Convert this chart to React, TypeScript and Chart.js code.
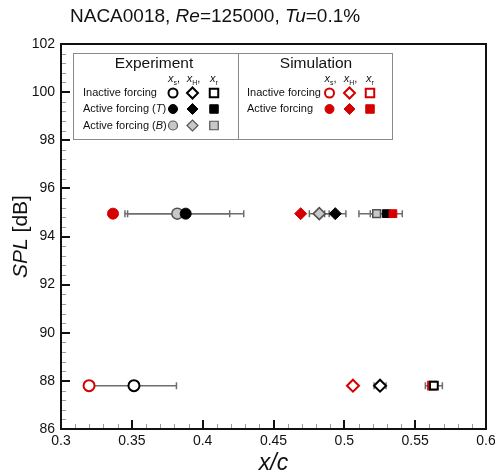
import React, { useEffect, useRef } from 'react';
import { Chart, registerables } from 'chart.js';
Chart.register(...registerables);

// ---------- data ----------
const xTickValues = [0.3, 0.35, 0.4, 0.45, 0.5, 0.55, 0.6];
const yTickValues = [86, 88, 90, 92, 94, 96, 98, 100, 102];
const splActive = 94.95;
const splInactive = 87.8;

const expInactiveX = [0.3515, 0.5252, 0.5632];
const expInactiveErr = [0.03, 0.0042, 0.006];
const expActiveTX = [0.388, 0.4936, 0.5296];
const expActiveTErr = [0.041, 0.0075, 0.0113];
const expActiveBX = [0.3821, 0.4823, 0.5228];
const expActiveBErr = [0.037, 0.007, 0.0125];
const simInactiveX = [0.3198, 0.5061, 0.5619];
const simActiveX = [0.3367, 0.4692, 0.5343];

// ---------- styles ----------
const RED = '#d40000';
const FONT = 'Arial, "Liberation Sans", sans-serif';
const pointStyles = ['circle', 'rectRot', 'rect'];
const pointRadii = [5.5, 6, 5.5];

type Run = { t: string; it?: boolean; sz: number; dy?: number };

function runsWidth(ctx: CanvasRenderingContext2D, runs: Run[]) {
  let w = 0;
  for (const r of runs) {
    ctx.font = `${r.it ? 'italic ' : ''}${r.sz}px ${FONT}`;
    w += ctx.measureText(r.t).width;
  }
  return w;
}
function drawRuns(ctx: CanvasRenderingContext2D, runs: Run[], x: number, y: number, align: 'left' | 'center') {
  let cx = align === 'center' ? x - runsWidth(ctx, runs) / 2 : x;
  ctx.textAlign = 'left';
  for (const r of runs) {
    ctx.font = `${r.it ? 'italic ' : ''}${r.sz}px ${FONT}`;
    ctx.fillText(r.t, cx, y + (r.dy || 0));
    cx += ctx.measureText(r.t).width;
  }
}

function drawMarker(ctx: CanvasRenderingContext2D, style: string, x: number, y: number, r: number, fill: string, stroke: string, lw: number) {
  ctx.beginPath();
  if (style === 'circle') ctx.arc(x, y, r, 0, Math.PI * 2);
  else if (style === 'rectRot') {
    ctx.moveTo(x - r, y); ctx.lineTo(x, y - r); ctx.lineTo(x + r, y); ctx.lineTo(x, y + r); ctx.closePath();
  } else {
    const h = r * Math.SQRT1_2;
    ctx.rect(x - h, y - h, 2 * h, 2 * h);
  }
  ctx.fillStyle = fill;
  ctx.fill();
  ctx.lineWidth = lw;
  ctx.strokeStyle = stroke;
  ctx.stroke();
}

const errorBarPlugin = {
  id: 'errorBars',
  beforeDatasetsDraw(chart: any) {
    const ctx = chart.ctx as CanvasRenderingContext2D;
    const xs = chart.scales.x, ys = chart.scales.y;
    ctx.save();
    ctx.strokeStyle = '#6e6e6e';
    ctx.lineWidth = 1.5;
    chart.data.datasets.forEach((ds: any) => {
      if (!ds.xErr) return;
      ds.data.forEach((p: any, i: number) => {
        const e = ds.xErr[i];
        const x1 = xs.getPixelForValue(p.x - e);
        const x2 = xs.getPixelForValue(p.x + e);
        const y = ys.getPixelForValue(p.y);
        ctx.beginPath();
        ctx.moveTo(x1, y); ctx.lineTo(x2, y);
        ctx.moveTo(x1, y - 3.5); ctx.lineTo(x1, y + 3.5);
        ctx.moveTo(x2, y - 3.5); ctx.lineTo(x2, y + 3.5);
        ctx.stroke();
      });
    });
    ctx.restore();
  },
};

const decorPlugin = {
  id: 'decor',
  afterDraw(chart: any) {
    const ctx = chart.ctx as CanvasRenderingContext2D;
    const ca = chart.chartArea;
    const xs = chart.scales.x, ys = chart.scales.y;
    ctx.save();
    // minor ticks
    ctx.strokeStyle = '#9a9a9a';
    ctx.lineWidth = 1;
    ctx.beginPath();
    for (let i = 0; i < xTickValues.length - 1; i++) {
      for (let k = 1; k < 5; k++) {
        const v = xTickValues[i] + (xTickValues[i + 1] - xTickValues[i]) * k / 5;
        const px = Math.round(xs.getPixelForValue(v)) + 0.5;
        ctx.moveTo(px, ca.bottom); ctx.lineTo(px, ca.bottom - 5);
      }
    }
    for (let i = 0; i < yTickValues.length - 1; i++) {
      for (let k = 1; k < 5; k++) {
        const v = yTickValues[i] + (yTickValues[i + 1] - yTickValues[i]) * k / 5;
        const py = Math.round(ys.getPixelForValue(v)) + 0.5;
        ctx.moveTo(ca.left, py); ctx.lineTo(ca.left + 5, py);
      }
    }
    ctx.stroke();
    // major ticks
    ctx.strokeStyle = '#111';
    ctx.lineWidth = 2;
    ctx.beginPath();
    xTickValues.forEach((v) => {
      const px = Math.round(xs.getPixelForValue(v));
      ctx.moveTo(px, ca.bottom); ctx.lineTo(px, ca.bottom - 9);
    });
    yTickValues.forEach((v) => {
      const py = Math.round(ys.getPixelForValue(v));
      ctx.moveTo(ca.left, py); ctx.lineTo(ca.left + 9, py);
    });
    ctx.stroke();
    // frame
    ctx.lineWidth = 2;
    ctx.strokeStyle = '#111';
    ctx.strokeRect(ca.left, ca.top, ca.right - ca.left, ca.bottom - ca.top);

    // title
    ctx.fillStyle = '#111';
    ctx.textBaseline = 'middle';
    drawRuns(ctx, [
      { t: 'NACA0018, ', sz: 19 },
      { t: 'Re', sz: 19, it: true },
      { t: '=125000, ', sz: 19 },
      { t: 'Tu', sz: 19, it: true },
      { t: '=0.1%', sz: 19 },
    ], 70, 17, 'left');

    // x axis title
    drawRuns(ctx, [{ t: 'x/c', sz: 23, it: true }], (ca.left + ca.right) / 2, 464, 'center');
    // y axis title
    ctx.save();
    ctx.translate(21, (ca.top + ca.bottom) / 2);
    ctx.rotate(-Math.PI / 2);
    drawRuns(ctx, [{ t: 'SPL', sz: 21, it: true }, { t: ' [dB]', sz: 21 }], 0, 0, 'center');
    ctx.restore();

    // legend
    const L = ca.left + 12, T = ca.top + 9, W = 319, H = 86;
    const D = L + 165;
    ctx.fillStyle = '#fff';
    ctx.fillRect(L, T, W, H);
    ctx.strokeStyle = '#8a8a8a';
    ctx.lineWidth = 1;
    ctx.strokeRect(L + 0.5, T + 0.5, W, H);
    ctx.beginPath(); ctx.moveTo(D + 0.5, T); ctx.lineTo(D + 0.5, T + H); ctx.stroke();

    ctx.fillStyle = '#111';
    ctx.textBaseline = 'middle';
    drawRuns(ctx, [{ t: 'Experiment', sz: 15.5 }], L + 81, T + 11, 'center');
    drawRuns(ctx, [{ t: 'Simulation', sz: 15.5 }], D + 78, T + 11, 'center');

    const hdr = (cx: number, sub: string, comma: boolean) => {
      ctx.textBaseline = 'alphabetic';
      drawRuns(ctx, [
        { t: 'x', sz: 11, it: true },
        { t: sub, sz: 7, dy: 3 },
        { t: comma ? ',' : '', sz: 11 },
      ], cx, T + 29, 'center');
      ctx.textBaseline = 'middle';
    };
    const eCols = [L + 100, L + 119.5, L + 141];
    const sCols = [D + 91.5, D + 111.5, D + 132];
    const subs = ['s', 'H', 'r'];
    subs.forEach((s, i) => hdr(eCols[i] + (i < 2 ? 1 : 0), s, i < 2));
    subs.forEach((s, i) => hdr(sCols[i] + (i < 2 ? 1 : 0), s, i < 2));

    const rowsY = [T + 40, T + 56, T + 72.5];
    const legR = [4.5, 5.5, 6];
    ctx.fillStyle = '#111';
    drawRuns(ctx, [{ t: 'Inactive forcing', sz: 11 }], L + 10, rowsY[0], 'left');
    drawRuns(ctx, [{ t: 'Active forcing (', sz: 11 }, { t: 'T', sz: 11, it: true }, { t: ')', sz: 11 }], L + 10, rowsY[1], 'left');
    drawRuns(ctx, [{ t: 'Active forcing (', sz: 11 }, { t: 'B', sz: 11, it: true }, { t: ')', sz: 11 }], L + 10, rowsY[2], 'left');
    drawRuns(ctx, [{ t: 'Inactive forcing', sz: 11 }], D + 9, rowsY[0], 'left');
    drawRuns(ctx, [{ t: 'Active forcing', sz: 11 }], D + 9, rowsY[1], 'left');

    const eStyles = [
      { f: '#fff', s: '#000', w: 2 },
      { f: '#000', s: '#000', w: 1 },
      { f: '#c8c8c8', s: '#555', w: 1.2 },
    ];
    const sStyles = [
      { f: '#fff', s: RED, w: 2 },
      { f: RED, s: RED, w: 1 },
    ];
    eStyles.forEach((st, r) => pointStyles.forEach((ps, c) => drawMarker(ctx, ps, eCols[c], rowsY[r], legR[c], st.f, st.s, st.w)));
    sStyles.forEach((st, r) => pointStyles.forEach((ps, c) => drawMarker(ctx, ps, sCols[c], rowsY[r], legR[c], st.f, st.s, st.w)));

    ctx.restore();
  },
};

function pts(xv: number[], y: number) {
  return xv.map((x) => ({ x, y }));
}

export default function App() {
  const ref = useRef<HTMLCanvasElement>(null);
  useEffect(() => {
    const canvas = ref.current!;
    const common = { pointStyle: pointStyles, pointRadius: pointRadii, showLine: false };
    const chart = new Chart(canvas, {
      type: 'scatter',
      data: {
        datasets: [
          { label: 'Simulation, active forcing', data: pts(simActiveX, splActive), backgroundColor: RED, borderColor: RED, borderWidth: 1, order: 0, ...common },
          { label: 'Experiment, active forcing (T)', data: pts(expActiveTX, splActive), xErr: expActiveTErr, backgroundColor: '#000', borderColor: '#000', borderWidth: 1, order: 1, ...common },
          { label: 'Experiment, active forcing (B)', data: pts(expActiveBX, splActive), xErr: expActiveBErr, backgroundColor: '#c8c8c8', borderColor: '#505050', borderWidth: 1.5, order: 2, ...common },
          { label: 'Experiment, inactive forcing', data: pts(expInactiveX, splInactive), xErr: expInactiveErr, backgroundColor: '#fff', borderColor: '#000', borderWidth: 2, order: 3, ...common },
          { label: 'Simulation, inactive forcing', data: pts(simInactiveX, splInactive), backgroundColor: '#fff', borderColor: RED, borderWidth: 2, order: 4, ...common },
        ] as any,
      },
      options: {
        animation: false,
        responsive: false,
        devicePixelRatio: 1,
        layout: { padding: { top: 44, right: 9, left: 0, bottom: 0 } },
        plugins: { legend: { display: false }, tooltip: { enabled: false }, title: { display: false } },
        scales: {
          x: {
            type: 'linear', min: 0.3, max: 0.6,
            afterBuildTicks: (s: any) => { s.ticks = xTickValues.map((v) => ({ value: v })); },
            afterFit: (s: any) => { s.height = 47; s.paddingLeft = 0; s.paddingRight = 0; },
            grid: { display: false, drawTicks: false },
            border: { display: false },
            ticks: { padding: 4, color: '#111', maxRotation: 0, font: { size: 14, family: FONT }, callback: (v: any) => String(Number(Number(v).toFixed(2))) },
          },
          y: {
            type: 'linear', min: 86, max: 102,
            afterBuildTicks: (s: any) => { s.ticks = yTickValues.map((v) => ({ value: v })); },
            afterFit: (s: any) => { s.width = 61; s.paddingTop = 0; s.paddingBottom = 0; },
            grid: { display: false, drawTicks: false },
            border: { display: false },
            ticks: { padding: 6, color: '#111', font: { size: 14, family: FONT } },
          },
        },
      },
      plugins: [errorBarPlugin, decorPlugin],
    } as any);
    return () => chart.destroy();
  }, []);
  return (
    <div style={{ position: 'fixed', left: 0, top: 0, width: 495, height: 476, background: '#fff' }}>
      <canvas ref={ref} width={495} height={476} style={{ width: 495, height: 476, display: 'block' }} />
    </div>
  );
}
